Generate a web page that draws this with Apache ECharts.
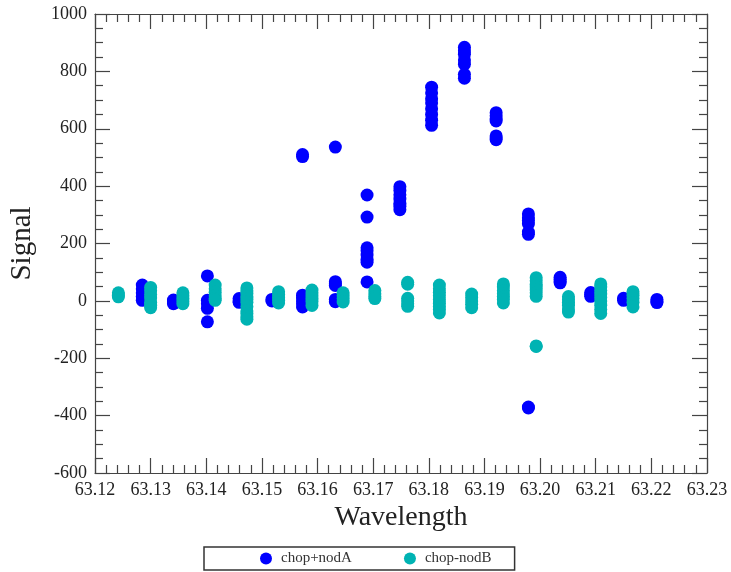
<!DOCTYPE html>
<html>
<head>
<meta charset="utf-8">
<script src="https://cdn.jsdelivr.net/npm/echarts@6/dist/echarts.min.js"></script>
<style>
html,body{margin:0;padding:0;background:#fff;}
#chart{width:731px;height:572px;}
</style>
</head>
<body>
<div id="chart"></div>
<script>
// Series chop+nodA: wavelength of each column and signal values in it
var waveA = [63.1285, 63.1341, 63.1402, 63.1459, 63.1518, 63.1573, 63.1632, 63.1689, 63.1748, 63.1805, 63.1864, 63.1921, 63.1979, 63.2036, 63.2091, 63.2150, 63.2210];
var signalA = [
  [55, 42, 28, 15, 2],
  [3, -4, -10],
  [87, 2, -10, -26, -73],
  [8, 0, -5],
  [5, 0],
  [20, 10, 0, -10, -21, 503, 510],
  [67, 60, 54, 5, -3, 536],
  [369, 292, 185, 175, 160, 145, 135, 66],
  [398, 385, 370, 355, 340, 330, 318],
  [745, 725, 705, 690, 670, 650, 630, 612],
  [884, 872, 860, 840, 825, 790, 776],
  [656, 645, 635, 627, 575, 568, 562],
  [303, 290, 280, 268, 240, 232, -370, -373],
  [82, 75, 68, 63],
  [29, 22, 16],
  [9, 2],
  [5, -2, -6]
];
// Series chop-nodB
var waveB = [63.1242, 63.1300, 63.1358, 63.1416, 63.1473, 63.1530, 63.1590, 63.1646, 63.1703, 63.1762, 63.1819, 63.1877, 63.1934, 63.1993, 63.2051, 63.2109, 63.2167];
var signalB = [
  [28, 20, 14],
  [47, 35, 22, 10, -5, -15, -24],
  [28, 18, 8, -2, -10],
  [55, 42, 30, 18, 8, 2],
  [45, 35, 26, 15, 6, -5, -20, -35, -44, -55, -64],
  [32, 22, 12, 2, -7],
  [38, 28, 18, 8, -2, -16],
  [28, 18, 8, -4],
  [36, 25, 15, 8],
  [65, 58, 9, 0, -10, -19],
  [55, 42, 30, 18, 5, -8, -20, -30, -42],
  [24, 12, 0, -12, -24],
  [59, 48, 36, 25, 15, 5, -7],
  [81, 70, 58, 48, 38, 28, 16, -159, -157],
  [15, 5, -5, -15, -28, -39],
  [59, 48, 36, 24, 12, 0, -15, -30, -44],
  [32, 20, 8, -5, -21]
];
var seriesNames = ['chop+nodA', 'chop-nodB'];
var xTicks = {min: 63.12, max: 63.23, interval: 0.01};
var yTicks = {min: -600, max: 1000, interval: 200};

function build(w, s) {
  var out = [];
  for (var i = 0; i < w.length; i++) {
    for (var j = 0; j < s[i].length; j++) out.push([w[i], s[i][j]]);
  }
  return out;
}

var FONT = '"Liberation Serif", "DejaVu Serif", serif';
var AX = '#444';

function xAx(pos, labels) {
  return {
    type: 'value', position: pos, gridIndex: 0,
    min: xTicks.min, max: xTicks.max, interval: xTicks.interval,
    name: labels ? 'Wavelength' : '', nameLocation: 'middle', nameGap: 30,
    nameTextStyle: {fontFamily: FONT, fontSize: 28, color: '#222'},
    axisLine: {show: true, onZero: false, lineStyle: {color: AX, width: 1.2}},
    axisTick: {show: true, inside: true, length: 15, lineStyle: {color: AX, width: 1.2}},
    minorTick: {show: true, splitNumber: 5, length: 8, lineStyle: {color: AX, width: 1.2}},
    splitLine: {show: false}, minorSplitLine: {show: false},
    axisLabel: {show: labels, margin: 8, fontFamily: FONT, fontSize: 18, color: '#222',
      formatter: function (v) { return v.toFixed(2); }}
  };
}
function yAx(pos, labels) {
  return {
    type: 'value', position: pos, gridIndex: 0,
    min: yTicks.min, max: yTicks.max, interval: yTicks.interval,
    name: labels ? 'Signal' : '', nameLocation: 'middle', nameGap: 58,
    nameTextStyle: {fontFamily: FONT, fontSize: 29, color: '#222'},
    axisLine: {show: true, onZero: false, lineStyle: {color: AX, width: 1.2}},
    axisTick: {show: true, inside: true, length: 15, lineStyle: {color: AX, width: 1.2}},
    minorTick: {show: true, splitNumber: 4, length: 8, lineStyle: {color: AX, width: 1.2}},
    splitLine: {show: false}, minorSplitLine: {show: false},
    axisLabel: {show: labels, margin: 8, fontFamily: FONT, fontSize: 18, color: '#222',
      formatter: function (v) { return String(v); }}
  };
}

var chart = echarts.init(document.getElementById('chart'), null, {renderer: 'canvas'});
chart.setOption({
  animation: false,
  backgroundColor: '#fff',
  grid: {left: 95, top: 14, right: 24, bottom: 99, containLabel: false},
  xAxis: [xAx('bottom', true), xAx('top', false)],
  yAxis: [yAx('left', true), yAx('right', false)],
  legend: {
    left: 204, top: 547,
    orient: 'horizontal',
    padding: [4, 23, 4, 56],
    itemGap: 52,
    itemWidth: 20, itemHeight: 12,
    borderColor: '#333', borderWidth: 1.5, borderRadius: 0,
    icon: 'circle',
    textStyle: {fontFamily: FONT, fontSize: 15, color: '#333'},
    data: seriesNames
  },
  series: [
    {name: seriesNames[0], type: 'scatter', xAxisIndex: 0, yAxisIndex: 0,
     symbol: 'circle', symbolSize: 13, itemStyle: {color: '#0000ff', opacity: 1},
     data: build(waveA, signalA)},
    {name: seriesNames[1], type: 'scatter', xAxisIndex: 0, yAxisIndex: 0,
     symbol: 'circle', symbolSize: 13, itemStyle: {color: '#00b3b3', opacity: 1},
     data: build(waveB, signalB)}
  ]
});
</script>
</body>
</html>
